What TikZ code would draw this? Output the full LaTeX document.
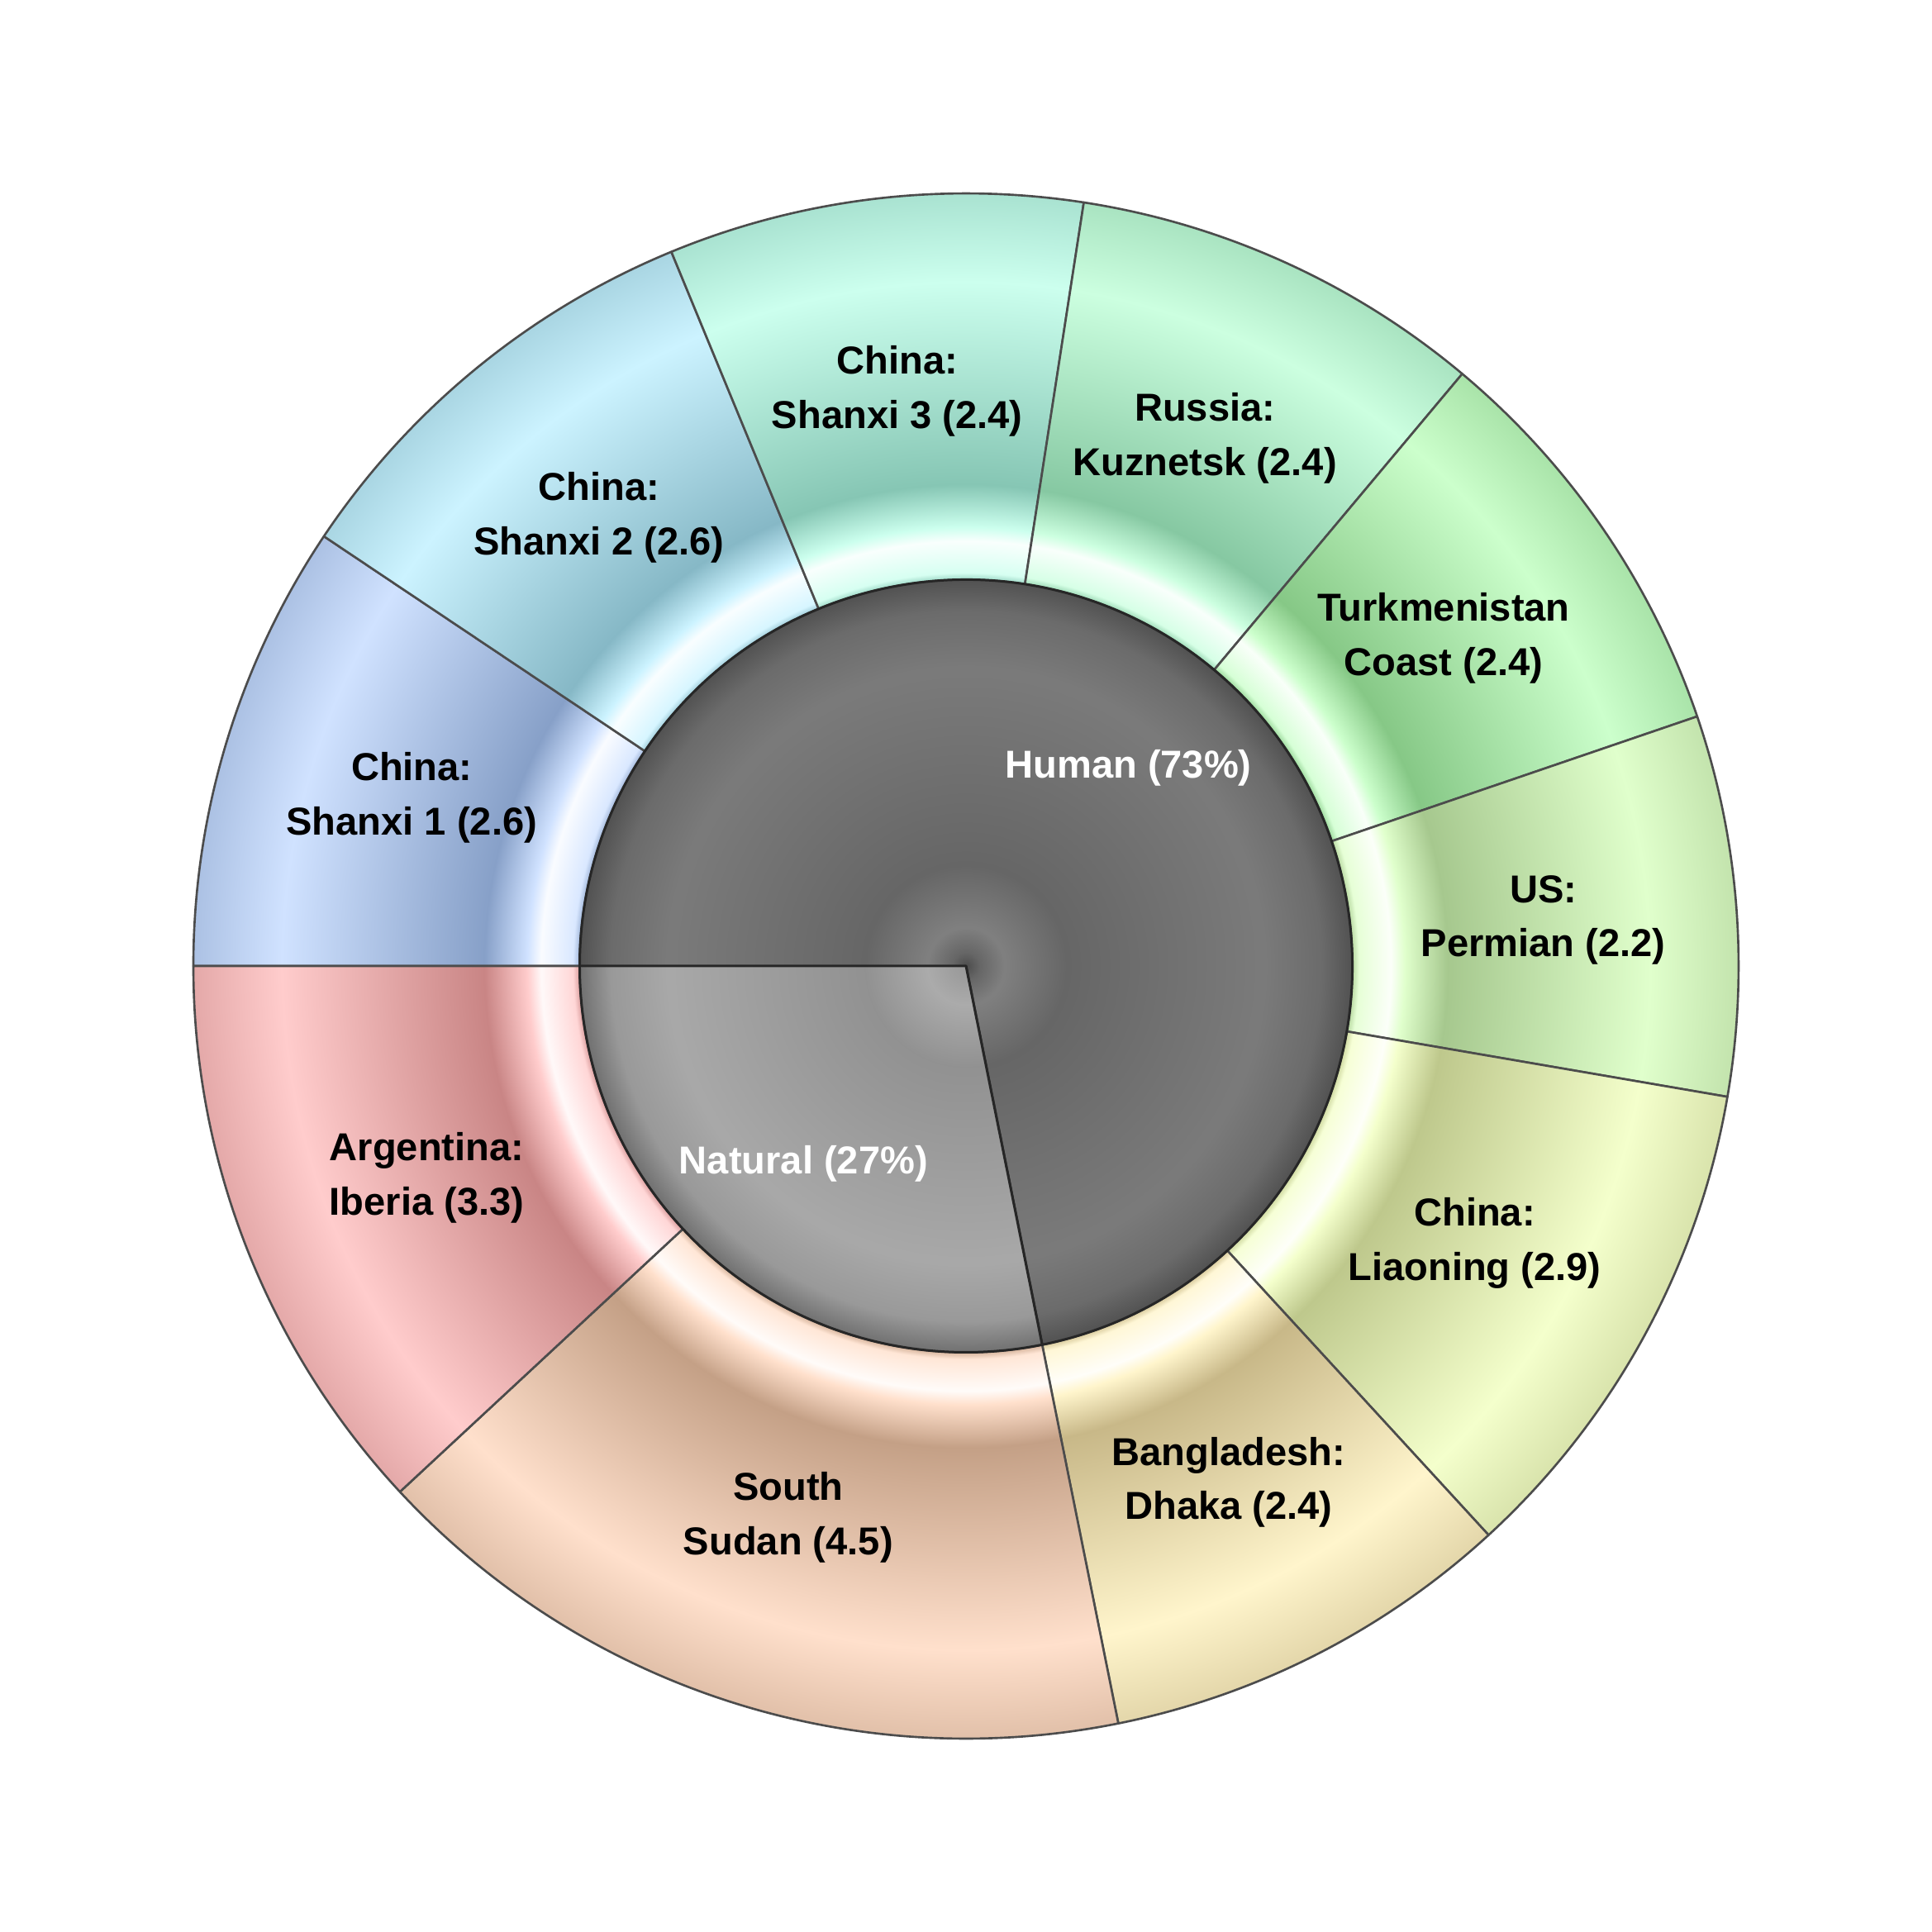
\documentclass[tikz,border=0pt]{standalone}
\usepackage{fontspec}
\setmainfont{Liberation Sans}
\newcommand\rOut{9.35}
\newcommand\rIn{4.675}
\colorlet{rA}{white}\colorlet{rF}{white}\colorlet{rB}{white}\colorlet{rC}{white}\colorlet{rD}{white}\colorlet{rE}{white}
\colorlet{pA}{white}\colorlet{pB}{white}\colorlet{pC}{white}\colorlet{pD}{white}\colorlet{pE}{white}\colorlet{pF}{white}\colorlet{pG}{white}
\pgfdeclareradialshading[rA,rF,rB,rC,rD,rE]{ringshade}{\pgfpointorigin}{color(0bp)=(rA); color(12.5bp)=(rA); color(12.72bp)=(rF); color(13.75bp)=(rB); color(14.2bp)=(rD); color(15.58bp)=(rC); color(22.13bp)=(rD); color(25bp)=(rE); color(50bp)=(rE)}
\pgfdeclareradialshading[pA,pB,pC,pD,pE,pF,pG]{pieshade}{\pgfpointorigin}{color(0bp)=(pA); color(0.875bp)=(pB); color(2.5bp)=(pC); color(6.5bp)=(pD); color(19.25bp)=(pE); color(23bp)=(pF); color(25bp)=(pG); color(50bp)=(pG)}
\definecolor{lA}{HTML}{D0E2FF}\definecolor{dA}{HTML}{87A0C8}
\definecolor{lB}{HTML}{CCF3FF}\definecolor{dB}{HTML}{86B8C6}
\definecolor{lC}{HTML}{CCFFEE}\definecolor{dC}{HTML}{86C6B4}
\definecolor{lD}{HTML}{CCFFE0}\definecolor{dD}{HTML}{86C8A2}
\definecolor{lE}{HTML}{CCFFCC}\definecolor{dE}{HTML}{86C886}
\definecolor{lF}{HTML}{E0FFCC}\definecolor{dF}{HTML}{A6C88E}
\definecolor{lG}{HTML}{F4FFCC}\definecolor{dG}{HTML}{BEC88C}
\definecolor{lH}{HTML}{FFF5CC}\definecolor{dH}{HTML}{C8B888}
\definecolor{lI}{HTML}{FFE0CC}\definecolor{dI}{HTML}{C4A086}
\definecolor{lJ}{HTML}{FFCCCC}\definecolor{dJ}{HTML}{C98585}
\newcommand\ringwedge[4]{%
  \colorlet{rD}{#3}\colorlet{rC}{#4}\colorlet{rA}{#3!30!#4}\colorlet{rF}{#3!80!white}\colorlet{rB}{white!88!#3}\colorlet{rE}{#3!50!#4}%
  \begin{scope}
    \clip (0,0) -- (#1:\rOut) arc[start angle=#1,end angle=#2,radius=\rOut] -- cycle;
    \shade[shading=ringshade] (0,0) circle[radius=\rOut];
  \end{scope}
  \draw[ringline] (#1:\rIn) -- (#1:\rOut) arc[start angle=#1,end angle=#2,radius=\rOut] -- (#2:\rIn) arc[start angle=#2,end angle=#1,radius=\rIn] -- cycle;
}
\newcommand\piewedge[2]{%
  \begin{scope}
    \clip (0,0) -- (#1:\rIn) arc[start angle=#1,end angle=#2,radius=\rIn] -- cycle;
    \shade[shading=pieshade] (0,0) circle[radius=\rIn];
  \end{scope}
  \draw[pieline] (0,0) -- (#1:\rIn) arc[start angle=#1,end angle=#2,radius=\rIn] -- cycle;
}
\tikzset{
  ringline/.style={draw=black!70, line width=0.75pt, line join=round},
  pieline/.style={draw=black!85, line width=0.85pt, line join=round},
  lbl/.style={font=\bfseries\fontsize{13.4}{18.7}\selectfont, align=center, text=black, inner sep=0pt},
  inlbl/.style={lbl, text=white}
}
\begin{document}
\begin{tikzpicture}
\useasboundingbox (-11.69,-11.69) rectangle (11.69,11.69);
% outer ring (clockwise from 180 deg)
\ringwedge{146.2094}{180}{lA}{dA}
\ringwedge{112.4188}{146.2094}{lB}{dB}
\ringwedge{81.2275}{112.4188}{lC}{dC}
\ringwedge{50.0362}{81.2275}{lD}{dD}
\ringwedge{18.8449}{50.0362}{lE}{dE}
\ringwedge{-9.7472}{18.8449}{lF}{dF}
\ringwedge{-47.4367}{-9.7472}{lG}{dG}
\ringwedge{-78.6280}{-47.4367}{lH}{dH}
\ringwedge{-137.1118}{-78.6280}{lI}{dI}
\ringwedge{-180}{-137.1118}{lJ}{dJ}
% inner pie
\colorlet{pA}{black!70}\colorlet{pB}{black!60}\colorlet{pC}{black!50}\colorlet{pD}{black!60}\colorlet{pE}{black!52}\colorlet{pF}{black!58}\colorlet{pG}{black!68}
\piewedge{-78.6280}{180}
\colorlet{pA}{black!40}\colorlet{pB}{black!38}\colorlet{pC}{black!33}\colorlet{pD}{black!43}\colorlet{pE}{black!34}\colorlet{pF}{black!40}\colorlet{pG}{black!56}
\piewedge{180}{281.3720}
% labels
\node[lbl] (shanxi1) at (163.105:7.01) {China:\\Shanxi 1 (2.6)};
\node[lbl] (shanxi2) at (129.314:7.01) {China:\\Shanxi 2 (2.6)};
\node[lbl] (shanxi3) at (96.823:7.01) {China:\\Shanxi 3 (2.4)};
\node[lbl] (russia) at (65.632:7.01) {Russia:\\Kuznetsk (2.4)};
\node[lbl] (turkmen) at (34.441:7.01) {Turkmenistan\\Coast (2.4)};
\node[lbl] (us) at (4.549:7.01) {US:\\Permian (2.2)};
\node[lbl] (liaoning) at (-28.592:7.01) {China:\\Liaoning (2.9)};
\node[lbl] (dhaka) at (-63.032:7.01) {Bangladesh:\\Dhaka (2.4)};
\node[lbl] (sudan) at (-107.870:7.01) {South\\Sudan (4.5)};
\node[lbl] (iberia) at (-158.556:7.01) {Argentina:\\Iberia (3.3)};
\node[inlbl] (human) at (50.65:3.10) {Human (73\%)};
\node[inlbl] (natural) at (-129.35:3.10) {Natural (27\%)};
\end{tikzpicture}
\end{document}
